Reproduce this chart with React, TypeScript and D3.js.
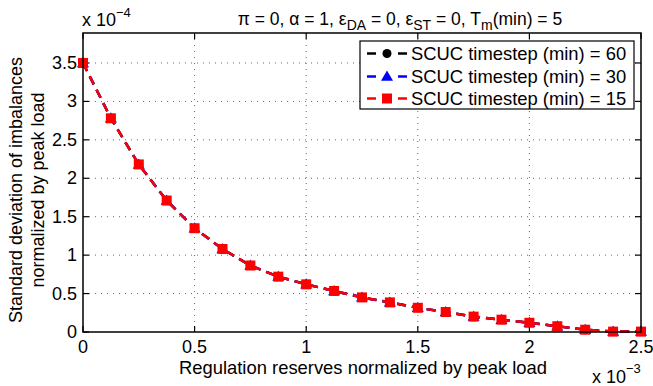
import React from "react";
import * as d3 from "d3";

const reserves = [0, 0.125, 0.25, 0.375, 0.5, 0.625, 0.75, 0.875, 1.0, 1.125, 1.25, 1.375, 1.5, 1.625, 1.75, 1.875, 2.0, 2.125, 2.25, 2.375, 2.5];
const std60 = [3.5, 2.78, 2.18, 1.71, 1.35, 1.08, 0.865, 0.72, 0.62, 0.534, 0.45, 0.385, 0.315, 0.26, 0.2, 0.16, 0.12, 0.075, 0.03, 0.005, 0.005];
const std30 = [3.5, 2.78, 2.18, 1.71, 1.35, 1.08, 0.865, 0.72, 0.62, 0.534, 0.45, 0.385, 0.315, 0.26, 0.2, 0.16, 0.12, 0.075, 0.03, 0.005, 0.005];
const std15 = [3.5, 2.78, 2.18, 1.71, 1.35, 1.08, 0.865, 0.72, 0.62, 0.534, 0.45, 0.385, 0.315, 0.26, 0.2, 0.16, 0.12, 0.075, 0.03, 0.005, 0.005];
const xTicks = [0, 0.5, 1, 1.5, 2, 2.5];
const yTicks = [0, 0.5, 1, 1.5, 2, 2.5, 3, 3.5];
const seriesNames = ["SCUC timestep (min) = 60", "SCUC timestep (min) = 30", "SCUC timestep (min) = 15"];

const W = 653, H = 386;
const L = 83, R = 641, T = 33, B = 332;
const FONT = "'Liberation Sans', Arial, Helvetica, sans-serif";

export default function App() {
  const x = d3.scaleLinear().domain([0, 2.5]).range([L, R]);
  const y = d3.scaleLinear().domain([0, 3.89]).range([B, T]);
  const line = d3.line<number>().x((_, i) => x(reserves[i])).y((d) => y(d));

  const series = [
    { values: std60, color: "#000000", marker: "circle" },
    { values: std30, color: "#0000ff", marker: "triangle" },
    { values: std15, color: "#ff0000", marker: "square" },
  ];

  const marker = (kind: string, cx: number, cy: number, color: string, key: string | number) => {
    if (kind === "circle") return <circle key={key} cx={cx} cy={cy} r={4.5} fill={color} />;
    if (kind === "triangle") {
      const s = 6;
      return <path key={key} d={`M${cx},${cy - s}L${cx + s},${cy + s * 0.7}L${cx - s},${cy + s * 0.7}Z`} fill={color} />;
    }
    return <rect key={key} x={cx - 5} y={cy - 5} width={10} height={10} fill={color} />;
  };

  const tickLen = 6;
  const legendRows = [53.5, 76.5, 98.5];
  const yLabelCenter = 190;

  return (
    <svg width={W} height={H} style={{ position: "absolute", left: 0, top: 0, background: "#fff" }} fontFamily={FONT}>
      <rect x={0} y={0} width={W} height={H} fill="#fff" />
      {/* grid */}
      {xTicks.slice(1, -1).map((t) => (
        <line key={"gx" + t} x1={x(t)} x2={x(t)} y1={T} y2={B} stroke="#666" strokeWidth={1} strokeDasharray="1,5" />
      ))}
      {yTicks.slice(1).map((t) => (
        <line key={"gy" + t} x1={L} x2={R} y1={y(t)} y2={y(t)} stroke="#666" strokeWidth={1} strokeDasharray="1,5" />
      ))}
      {/* ticks */}
      {xTicks.map((t) => (
        <g key={"tx" + t}>
          <line x1={x(t)} x2={x(t)} y1={B} y2={B - tickLen} stroke="#000" strokeWidth={1.2} />
          <line x1={x(t)} x2={x(t)} y1={T} y2={T + tickLen} stroke="#000" strokeWidth={1.2} />
          <text x={x(t)} y={B + 21} fontSize={18} textAnchor="middle">{t}</text>
        </g>
      ))}
      {yTicks.map((t) => (
        <g key={"ty" + t}>
          <line x1={L} x2={L + tickLen} y1={y(t)} y2={y(t)} stroke="#000" strokeWidth={1.2} />
          <line x1={R} x2={R - tickLen} y1={y(t)} y2={y(t)} stroke="#000" strokeWidth={1.2} />
          <text x={L - 6} y={y(t)} fontSize={18} textAnchor="end" dominantBaseline="central">{t}</text>
        </g>
      ))}
      {/* series */}
      {series.map((s, si) => (
        <g key={"s" + si}>
          <path d={line(s.values) || ""} fill="none" stroke={s.color} strokeWidth={2.5} strokeDasharray="9,6" />
          {s.values.map((v, i) => marker(s.marker, x(reserves[i]), y(v), s.color, i))}
        </g>
      ))}
      {/* axes box */}
      <rect x={L} y={T} width={R - L} height={B - T} fill="none" stroke="#000" strokeWidth={1.5} />
      {/* legend */}
      <rect x={360} y={41} width={274} height={68} fill="#fff" stroke="#000" strokeWidth={1.2} />
      {series.map((s, i) => (
        <g key={"lg" + i}>
          <line x1={367} x2={376} y1={legendRows[i]} y2={legendRows[i]} stroke={s.color} strokeWidth={2.5} />
          <line x1={398} x2={407} y1={legendRows[i]} y2={legendRows[i]} stroke={s.color} strokeWidth={2.5} />
          {marker(s.marker, 387, legendRows[i], s.color, "m")}
          <text x={411} y={legendRows[i]} fontSize={18.4} dominantBaseline="central">{seriesNames[i]}</text>
        </g>
      ))}
      {/* exponent labels */}
      <text x={82} y={26} fontSize={18}>
        x 10<tspan dy={-9} fontSize={13}>−4</tspan>
      </text>
      <text x={592} y={383} fontSize={18}>
        x 10<tspan dy={-10} fontSize={13}>−3</tspan>
      </text>
      {/* title */}
      <text x={400} y={25} fontSize={17.5} textAnchor="middle">
        π = 0, α = 1, ε<tspan dy={5} fontSize={14}>DA</tspan><tspan dy={-5}> = 0, ε</tspan>
        <tspan dy={5} fontSize={14}>ST</tspan><tspan dy={-5}> = 0, T</tspan>
        <tspan dy={5} fontSize={14}>m</tspan><tspan dy={-5}>(min) = 5</tspan>
      </text>
      {/* axis labels */}
      <text x={363} y={374} fontSize={18.4} textAnchor="middle">Regulation reserves normalized by peak load</text>
      <text transform={`translate(22, ${yLabelCenter}) rotate(-90)`} fontSize={18} textAnchor="middle">
        Standard deviation of imbalances
      </text>
      <text transform={`translate(44, ${yLabelCenter}) rotate(-90)`} fontSize={18} textAnchor="middle">
        normalized by peak load
      </text>
    </svg>
  );
}
